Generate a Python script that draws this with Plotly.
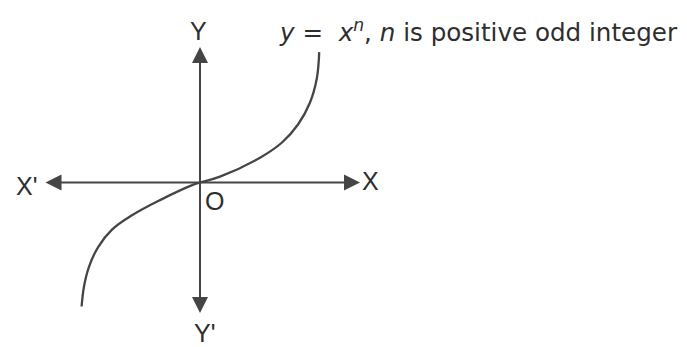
import plotly.graph_objects as go

# Curve y = x^n (odd n), sketched through these points (1 unit = 40 px)
curve_x = [-2.96, -2.90, -2.78, -2.55, -2.20, -1.70, -1.0, -0.18, 0.0, 0.5, 1.5, 2.05, 2.45, 2.75, 2.92, 2.98]
curve_y = [-3.10, -2.60, -2.12, -1.62, -1.18, -0.82, -0.44, -0.06, 0.0, 0.145, 0.62, 1.00, 1.45, 2.00, 2.60, 3.26]

# Axis extents (arrow tips)
x_axis_ends = [-3.9, 4.0]
y_axis_ends = [-3.3, 3.39]

# Axis labels: text, x, y
axis_labels = ["X'", "X", "Y", "Y'", "O"]
axis_label_x = [-4.33, 4.25, -0.05, 0.1, 0.35]
axis_label_y = [-0.08, 0.05, 3.8, -3.75, -0.45]

title_text = "<i>y</i> =  <i>x</i><sup><i>n</i></sup>, <i>n</i> is positive odd integer"
title_pos = (1.93, 3.8)

line_color = "#454545"
text_color = "#2e2e2e"
label_font = "Liberation Sans, Arial, sans-serif"
title_font = "DejaVu Sans, Verdana, sans-serif"

fig = go.Figure()

fig.add_trace(go.Scatter(
    x=curve_x, y=curve_y, mode="lines",
    line=dict(color=line_color, width=2.3, shape="spline", smoothing=1.1),
    hoverinfo="skip", showlegend=False,
))

arrow_common = dict(
    showarrow=True, text="", arrowside="end+start",
    arrowhead=2, startarrowhead=2, arrowsize=1.6, startarrowsize=1.6,
    arrowwidth=2, arrowcolor=line_color, xref="x", yref="y", axref="x", ayref="y",
    standoff=0, startstandoff=0,
)
# X'X axis
fig.add_annotation(x=x_axis_ends[1], y=0, ax=x_axis_ends[0], ay=0, **arrow_common)
# YY' axis
fig.add_annotation(x=0, y=y_axis_ends[1], ax=0, ay=y_axis_ends[0], **arrow_common)

for t, lx, ly in zip(axis_labels, axis_label_x, axis_label_y):
    fig.add_annotation(x=lx, y=ly, text=t, showarrow=False, xref="x", yref="y",
                       font=dict(family=label_font, size=25, color=text_color))

fig.add_annotation(x=title_pos[0], y=title_pos[1], text=title_text, showarrow=False,
                   xref="x", yref="y", xanchor="left",
                   font=dict(family=title_font, size=24.6, color=text_color))

fig.update_layout(
    width=687, height=347,
    margin=dict(l=0, r=0, t=0, b=0),
    paper_bgcolor="white", plot_bgcolor="white",
    xaxis=dict(range=[-5, 12.175], visible=False, fixedrange=True),
    yaxis=dict(range=[-4.1125, 4.5625], visible=False, fixedrange=True),
)

fig.write_html("out.html")
